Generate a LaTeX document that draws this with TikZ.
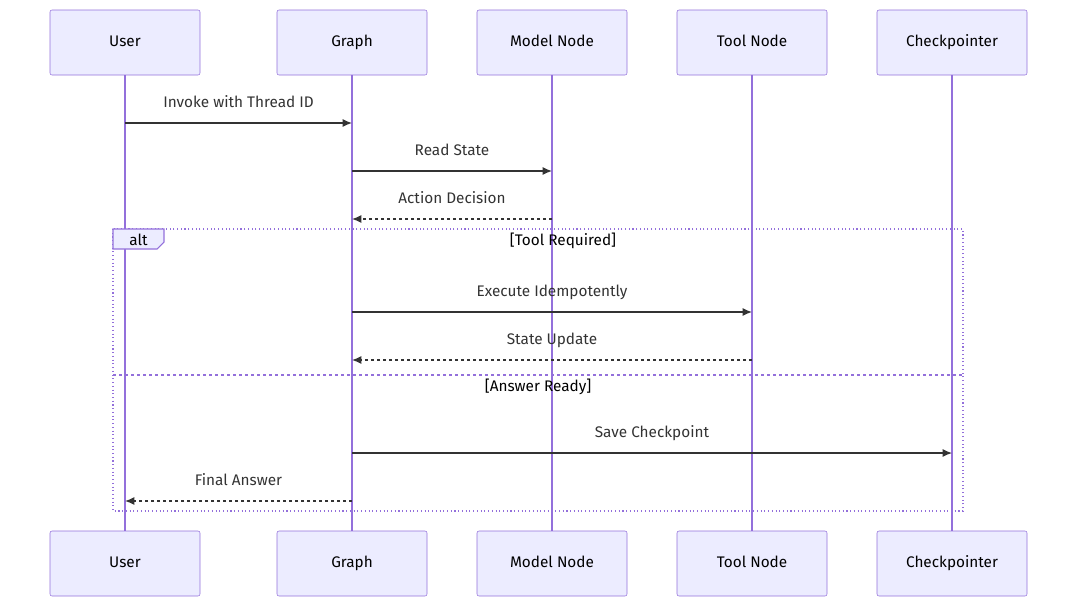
\documentclass[tikz,border=0pt]{standalone}
\usepackage{fontspec}
\setmainfont{Fira Sans}
\usetikzlibrary{arrows.meta}
\definecolor{boxfill}{HTML}{ECECFF}
\definecolor{boxline}{HTML}{9370DB}
\definecolor{txt}{HTML}{333333}
\begin{document}
\begin{tikzpicture}[x=0.75pt,y=-0.75pt,
  actor/.style={draw=boxline,fill=boxfill,rounded corners=1.5pt,minimum width=112.5pt,minimum height=48.75pt,font=\fontsize{11.5}{13}\selectfont,text=black,text height=8.5pt,text depth=2.5pt},
  life/.style={draw=boxline,line width=0.9pt},
  msg/.style={draw=txt,line width=0.9pt,-{Latex[length=7pt,width=6pt]}},
  reply/.style={msg,dashed,dash pattern=on 2.5pt off 2pt},
  lbl/.style={font=\fontsize{11.5}{13}\selectfont,text=txt,text height=8.5pt,text depth=2.5pt},
  frame/.style={draw=boxline,line width=0.8pt,dotted}]
\useasboundingbox (0,0) rectangle (1077,607);
\foreach \n/\x/\t in {u/125/User,g/352/Graph,m/552/Model Node,t/752/Tool Node,c/952/Checkpointer}{
  \node[actor] (\n1) at (\x,42.5) {\t};
  \node[actor] (\n2) at (\x,563.5) {\t};
  \draw[life] (\n1.south) -- (\n2.north);
}
\foreach \n/\x in {u/125,g/352,m/552,t/752,c/952}{
  \foreach \y in {123,171,219,312,360,453,501}{\coordinate (\n\y) at (\x,\y);}
}
\draw[msg] (u123) -- (g123) node[lbl,midway,above=5pt] {Invoke with Thread ID};
\draw[msg] (g171) -- (m171) node[lbl,midway,above=5pt] {Read State};
\draw[reply] (m219) -- (g219) node[lbl,midway,above=5pt] {Action Decision};
\coordinate (fa) at (113,229); \coordinate (fb) at (963,511);
\draw[frame] (fa) rectangle (fb);
\draw[draw=boxline,fill=boxfill,line width=0.8pt] (113,229) -- (164,229) -- (164,242) -- (157,249) -- (113,249) -- cycle;
\node[font=\fontsize{11.5}{13}\selectfont,text=black] (alt) at (138.5,240) {alt};
\node[font=\fontsize{11.5}{13}\selectfont] (c1) at (563,241) {[Tool Required]};
\draw[msg] (g312) -- (t312) node[lbl,midway,above=5pt] {Execute Idempotently};
\draw[reply] (t360) -- (g360) node[lbl,midway,above=5pt] {State Update};
\coordinate (d1) at (113,375); \coordinate (d2) at (963,375);
\draw[frame,dashed,dash pattern=on 2.5pt off 2pt] (d1) -- (d2);
\node[font=\fontsize{11.5}{13}\selectfont] (c2) at (538,387) {[Answer Ready]};
\draw[msg] (g453) -- (c453) node[lbl,midway,above=5pt] {Save Checkpoint};
\draw[reply] (g501) -- (u501) node[lbl,midway,above=5pt] {Final Answer};
\end{tikzpicture}
\end{document}
